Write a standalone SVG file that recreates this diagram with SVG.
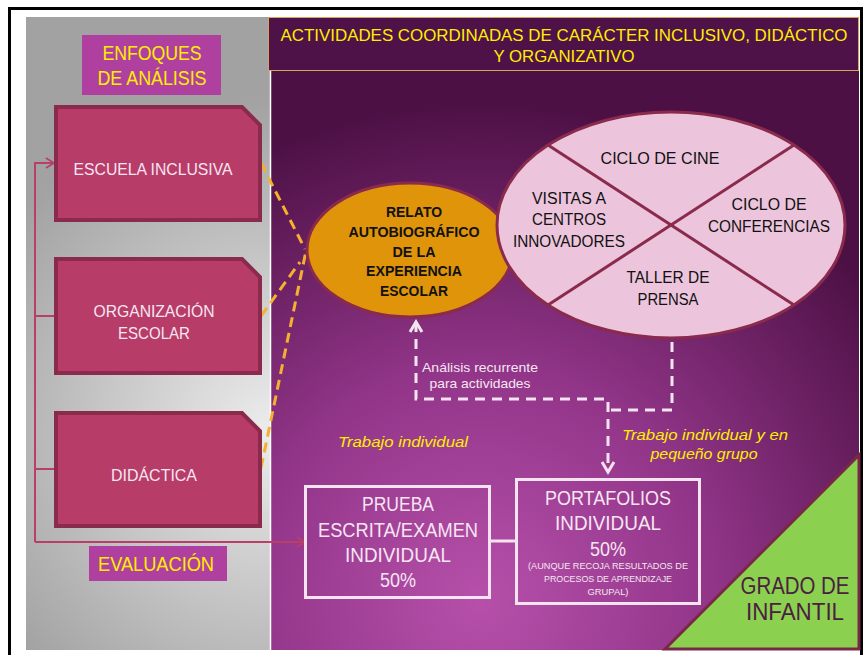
<svg xmlns="http://www.w3.org/2000/svg" width="863" height="655" viewBox="0 0 863 655">
<defs>
<style>
text{font-family:"Liberation Sans","DejaVu Sans",sans-serif;text-anchor:middle}
.yel{fill:#ffee00;font-size:20px}
.hdr{fill:#ffee00;font-size:17px}
.box{fill:#b83c68;stroke:#8a2a4c;stroke-width:4}
.wt{fill:#f6e6f2;font-size:17px}
.blk{fill:#111;font-size:16px}
.bold{fill:#111;font-size:14.5px;font-weight:bold}
.tag{fill:#b040a0}
.wbox{fill:none;stroke:#f4e4f0;stroke-width:3}
.bw{fill:#f6e6f2;font-size:20px}
.sm{fill:#f6e6f2;font-size:9.5px}
.it{fill:#ffee00;font-size:14px;font-style:italic}
.lab{fill:#f6e6f2;font-size:13px}
.gr{fill:#4a2040;font-size:23px}
</style>
<radialGradient id="pbg" gradientUnits="userSpaceOnUse" cx="480" cy="600" r="500">
<stop offset="0" stop-color="#b650aa"/>
<stop offset="0.45" stop-color="#93368a"/>
<stop offset="1" stop-color="#4c1044"/>
</radialGradient>
<radialGradient id="gbg" gradientUnits="userSpaceOnUse" cx="270" cy="430" r="330">
<stop offset="0" stop-color="#ececec"/>
<stop offset="1" stop-color="#a2a2a2"/>
</radialGradient>
<marker id="arrL" markerWidth="12" markerHeight="12" refX="9" refY="6" orient="auto" markerUnits="userSpaceOnUse">
<path d="M1,1 L9,6 L1,11" fill="none" stroke="#b84068" stroke-width="1.8"/>
</marker>
<marker id="arrW" markerWidth="16" markerHeight="16" refX="12" refY="8" orient="auto-start-reverse" markerUnits="userSpaceOnUse">
<path d="M2,2 L12,8 L2,14" fill="none" stroke="#f4e4f0" stroke-width="3"/>
</marker>
</defs>

<rect x="0" y="0" width="863" height="655" fill="#ffffff"/>
<g id="frame">
<rect x="8" y="7" width="855" height="3" fill="#000"/>
<rect x="8" y="7" width="3" height="648" fill="#000"/>
<rect x="860" y="7" width="3" height="648" fill="#000"/>
<rect x="26" y="17" width="245" height="633" fill="url(#gbg)"/>
<rect x="271" y="17" width="588" height="633" fill="url(#pbg)"/>
<line x1="270.5" y1="17" x2="270.5" y2="650" stroke="#ffffff" stroke-width="1.5"/>
</g>

<g id="header">
<rect x="268.5" y="17.5" width="590" height="53" fill="#4e1248" stroke="#d8a458" stroke-width="1"/>
<text class="hdr" x="564" y="41" textLength="567" lengthAdjust="spacingAndGlyphs">ACTIVIDADES COORDINADAS DE CARÁCTER INCLUSIVO, DIDÁCTICO</text>
<text class="hdr" x="564" y="62" textLength="141" lengthAdjust="spacingAndGlyphs">Y ORGANIZATIVO</text>
</g>

<g id="enfoques">
<rect class="tag" x="82" y="35" width="139" height="60"/>
<text class="yel" x="152" y="60" textLength="99" lengthAdjust="spacingAndGlyphs">ENFOQUES</text>
<text class="yel" x="152" y="85" textLength="109" lengthAdjust="spacingAndGlyphs">DE ANÁLISIS</text>
</g>

<g id="evaluacion">
<rect class="tag" x="89" y="546" width="138" height="35"/>
<text class="yel" x="156" y="571" textLength="116" lengthAdjust="spacingAndGlyphs">EVALUACIÓN</text>
</g>

<g id="connectors">
<path d="M35,542 V163 H54" fill="none" stroke="#b84068" stroke-width="2" marker-end="url(#arrL)"/>
<path d="M35,542 H305" fill="none" stroke="#b84068" stroke-width="2" marker-end="url(#arrL)"/>
<path d="M35,316 H55 M35,469 H55" fill="none" stroke="#b84068" stroke-width="2"/>
<g stroke="#f5b030" stroke-width="3" stroke-dasharray="10,6" fill="none">
<line x1="261" y1="163" x2="305" y2="249"/>
<line x1="261" y1="316" x2="300" y2="262"/>
<line x1="261" y1="468" x2="306" y2="251"/>
</g>
<path d="M416,322 V399 H608 V472" fill="none" stroke="#f4e4f0" stroke-width="3" stroke-dasharray="10,7" marker-start="url(#arrW)" marker-end="url(#arrW)"/>
<path d="M672,342 V410 H610" fill="none" stroke="#f4e4f0" stroke-width="3" stroke-dasharray="10,7"/>
<line x1="490" y1="541" x2="516" y2="541" stroke="#f4e4f0" stroke-width="3"/>
</g>

<g id="escuela">
<path class="box" d="M56,107 H242 L260,125 V220 H56 Z"/>
<text class="wt" x="153" y="175" textLength="159" lengthAdjust="spacingAndGlyphs">ESCUELA INCLUSIVA</text>
</g>
<g id="organizacion">
<path class="box" d="M56,259 H242 L260,277 V373 H56 Z"/>
<text class="wt" x="154" y="317" textLength="121" lengthAdjust="spacingAndGlyphs">ORGANIZACIÓN</text>
<text class="wt" x="154" y="339" textLength="72" lengthAdjust="spacingAndGlyphs">ESCOLAR</text>
</g>
<g id="didactica">
<path class="box" d="M56,413 H242 L260,431 V526 H56 Z"/>
<text class="wt" x="154" y="481" textLength="86" lengthAdjust="spacingAndGlyphs">DIDÁCTICA</text>
</g>

<g id="relato">
<ellipse cx="410" cy="250" rx="103" ry="67" fill="#e0940a" stroke="#8a2a4c" stroke-width="3"/>
<text class="bold" x="414" y="217" textLength="56" lengthAdjust="spacingAndGlyphs">RELATO</text>
<text class="bold" x="414" y="237" textLength="131" lengthAdjust="spacingAndGlyphs">AUTOBIOGRÁFICO</text>
<text class="bold" x="414" y="257" textLength="43" lengthAdjust="spacingAndGlyphs">DE LA</text>
<text class="bold" x="414" y="276" textLength="96" lengthAdjust="spacingAndGlyphs">EXPERIENCIA</text>
<text class="bold" x="414" y="296" textLength="68" lengthAdjust="spacingAndGlyphs">ESCOLAR</text>
</g>

<g id="actividades">
<ellipse cx="671" cy="225" rx="174" ry="113" fill="#ecc4dc" stroke="#8a2a4c" stroke-width="3"/>
<line x1="548" y1="145" x2="794" y2="305" stroke="#8a2a4c" stroke-width="3"/>
<line x1="794" y1="145" x2="548" y2="305" stroke="#8a2a4c" stroke-width="3"/>
<text class="blk" x="660" y="164" textLength="119" lengthAdjust="spacingAndGlyphs">CICLO DE CINE</text>
<text class="blk" x="569" y="204" textLength="74" lengthAdjust="spacingAndGlyphs">VISITAS A</text>
<text class="blk" x="569" y="225" textLength="74" lengthAdjust="spacingAndGlyphs">CENTROS</text>
<text class="blk" x="569" y="247" textLength="112" lengthAdjust="spacingAndGlyphs">INNOVADORES</text>
<text class="blk" x="769" y="210" textLength="75" lengthAdjust="spacingAndGlyphs">CICLO DE</text>
<text class="blk" x="769" y="232" textLength="122" lengthAdjust="spacingAndGlyphs">CONFERENCIAS</text>
<text class="blk" x="668" y="283" textLength="83" lengthAdjust="spacingAndGlyphs">TALLER DE</text>
<text class="blk" x="668" y="305" textLength="61" lengthAdjust="spacingAndGlyphs">PRENSA</text>
</g>

<g id="labels">
<text class="lab" x="480" y="372" textLength="116" lengthAdjust="spacingAndGlyphs">Análisis recurrente</text>
<text class="lab" x="480" y="388" textLength="101" lengthAdjust="spacingAndGlyphs">para actividades</text>
<text class="it" x="403" y="447" textLength="130" lengthAdjust="spacingAndGlyphs">Trabajo individual</text>
<text class="it" x="705" y="440" textLength="166" lengthAdjust="spacingAndGlyphs">Trabajo individual y en</text>
<text class="it" x="704" y="459" textLength="107" lengthAdjust="spacingAndGlyphs">pequeño grupo</text>
</g>

<g id="prueba">
<rect class="wbox" x="305.5" y="486.5" width="184" height="111"/>
<text class="bw" x="398" y="511" textLength="72" lengthAdjust="spacingAndGlyphs">PRUEBA</text>
<text class="bw" x="398" y="537" textLength="160" lengthAdjust="spacingAndGlyphs">ESCRITA/EXAMEN</text>
<text class="bw" x="398" y="562" textLength="106" lengthAdjust="spacingAndGlyphs">INDIVIDUAL</text>
<text class="bw" x="398" y="587" textLength="36" lengthAdjust="spacingAndGlyphs">50%</text>
</g>

<g id="portafolios">
<rect class="wbox" x="516.5" y="479.5" width="183" height="124"/>
<text class="bw" x="608" y="505" textLength="126" lengthAdjust="spacingAndGlyphs">PORTAFOLIOS</text>
<text class="bw" x="608" y="530" textLength="106" lengthAdjust="spacingAndGlyphs">INDIVIDUAL</text>
<text class="bw" x="608" y="556" textLength="36" lengthAdjust="spacingAndGlyphs">50%</text>
<text class="sm" x="608" y="569" textLength="160" lengthAdjust="spacingAndGlyphs">(AUNQUE RECOJA RESULTADOS DE</text>
<text class="sm" x="608" y="582" textLength="128" lengthAdjust="spacingAndGlyphs">PROCESOS DE APRENDIZAJE</text>
<text class="sm" x="608" y="595" textLength="41" lengthAdjust="spacingAndGlyphs">GRUPAL)</text>
</g>

<g id="grado">
<path d="M665,649 L859,455 V649 Z" fill="#8cd050" stroke="#7a2848" stroke-width="3"/>
<text class="gr" x="795" y="594" textLength="109" lengthAdjust="spacingAndGlyphs">GRADO DE</text>
<text class="gr" x="795" y="620" textLength="98" lengthAdjust="spacingAndGlyphs">INFANTIL</text>
</g>
</svg>
